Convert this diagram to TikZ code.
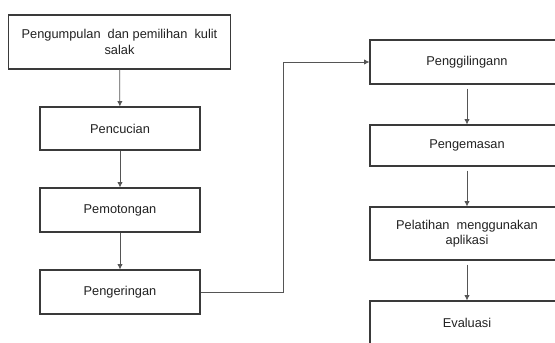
\documentclass[tikz,border=0pt]{standalone}
\usepackage{fontspec}
\setmainfont{Liberation Sans}
\usetikzlibrary{arrows.meta}
\definecolor{boxline}{HTML}{3A3A3A}
\definecolor{conline}{HTML}{555555}
\definecolor{txt}{HTML}{222222}
\begin{document}
\begin{tikzpicture}[x=0.75pt,y=-0.75pt,
  box/.style={draw=boxline,line width=0.8pt,fill=white,text=txt,align=center,
    inner sep=0pt,font=\fontsize{9.6}{11.5}\selectfont},
  flow/.style={draw=conline,line width=0.6pt,-{Latex[length=4pt,width=4pt]}}]
\useasboundingbox (0,0) rectangle (555,342);
\clip (0,0) rectangle (555,342);
\node[box,minimum width=166.5pt,minimum height=40.5pt] (kumpul) at (119.5,42) {Pengumpulan\ \ dan pemilihan\ \ kulit\\salak};
\node[box,minimum width=120pt,minimum height=32.25pt] (cuci) at (120,128.5) {Pencucian};
\node[box,minimum width=120pt,minimum height=33pt] (potong) at (120,210) {Pemotongan};
\node[box,minimum width=120pt,minimum height=33pt] (kering) at (120,292) {Pengeringan};
\node[box,minimum width=145.5pt,minimum height=33pt] (giling) at (467,62) {Penggilingann};
\node[box,minimum width=145.5pt,minimum height=30.75pt] (kemas) at (467,145.5) {Pengemasan};
\node[box,minimum width=145.5pt,minimum height=39.75pt] (latih) at (467,233.5) {Pelatihan\ \ menggunakan\\aplikasi};
\node[box,minimum width=145.5pt,minimum height=33pt] (eval) at (467,323) {Evaluasi};
\coordinate (bend) at (283,292);
\draw[flow] (kumpul) -- (cuci);
\draw[flow] (cuci) -- (potong);
\draw[flow] (potong) -- (kering);
\draw[flow] (kering.east) -- (bend) |- (giling.west);
\draw[flow,shorten <=3pt] (giling) -- (kemas);
\draw[flow,shorten <=3pt] (kemas) -- (latih);
\draw[flow,shorten <=3pt] (latih) -- (eval);
\end{tikzpicture}
\end{document}
